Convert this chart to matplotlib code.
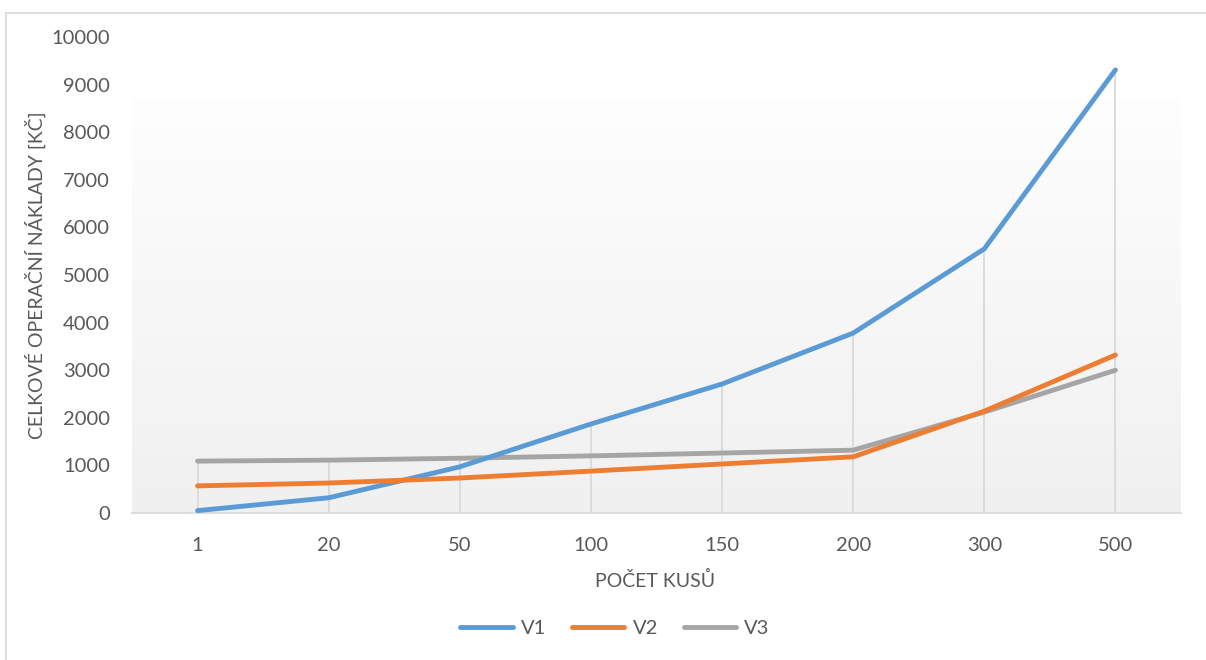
import numpy as np
import matplotlib.pyplot as plt
from matplotlib.lines import Line2D

plt.rcParams['font.family'] = ['Lato', 'DejaVu Sans']

kusy = ['1', '20', '50', '100', '150', '200', '300', '500']
v1 = [50, 320, 970, 1870, 2710, 3780, 5550, 9310]
v2 = [570, 630, 735, 880, 1030, 1180, 2140, 3320]
v3 = [1090, 1110, 1150, 1200, 1260, 1320, 2120, 3000]

c1 = '#5b9bd5'
c2 = '#ed7d31'
c3 = '#a5a5a5'
txt = '#595959'

fig = plt.figure(figsize=(12.06, 6.6), dpi=100)
ax = fig.add_axes([132 / 1206, 1 - 513 / 660, (1181 - 132) / 1206, (513 - 37) / 660])

x = np.arange(len(kusy))

# gradient background (white on top -> light grey bottom)
grad = np.linspace(0, 1, 256).reshape(-1, 1)
ax.imshow(grad, extent=[-0.5, len(kusy) - 0.5, 0, 8700], aspect='auto',
          cmap=plt.matplotlib.colors.LinearSegmentedColormap.from_list('g', ['#f0f0f0', '#fefefe']),
          origin='lower', zorder=0)

# drop lines
top = np.max([v1, v2, v3], axis=0)
ax.vlines(x, 0, top, color='#d9d9d9', lw=1.3, zorder=1)

ax.plot(x, v1, color=c1, lw=3.5, solid_capstyle='round', solid_joinstyle='round', zorder=3, label='V1')
ax.plot(x, v2, color=c2, lw=3.5, solid_capstyle='round', solid_joinstyle='round', zorder=3, label='V2')
ax.plot(x, v3, color=c3, lw=3.5, solid_capstyle='round', solid_joinstyle='round', zorder=2, label='V3')

ax.set_xlim(-0.5, len(kusy) - 0.5)
ax.set_ylim(0, 10000)
ax.set_yticks(range(0, 10001, 1000))
ax.set_xticks(x)
ax.set_xticklabels(kusy)
ax.tick_params(axis='both', length=0, labelsize=14.5, labelcolor=txt)
ax.tick_params(axis='x', pad=17)
ax.tick_params(axis='y', pad=16)
for s in ['top', 'right', 'left']:
    ax.spines[s].set_visible(False)
ax.spines['bottom'].set_color('#d9d9d9')
ax.spines['bottom'].set_linewidth(1.3)
ax.set_facecolor('white')

fig.text(655 / 1206, 1 - 580 / 660, 'POČET KUSŮ', ha='center', va='center', fontsize=14, color=txt)
fig.text(35 / 1206, 1 - 275 / 660, 'CELKOVÉ OPERAČNÍ NÁKLADY [KČ]', ha='center', va='center',
         rotation=90, fontsize=14, color=txt)

handles = [Line2D([], [], color=c, lw=3.5, solid_capstyle='round') for c in (c1, c2, c3)]
fig.legend(handles, ['V1', 'V2', 'V3'], loc='center', bbox_to_anchor=(615 / 1206, 1 - 628 / 660),
           ncol=3, frameon=False, fontsize=14.5, labelcolor=txt, handlelength=2.6,
           columnspacing=1.3, handletextpad=0.4)

# chart frame (top and left edges visible)
fig.add_artist(Line2D([5.5 / 1206, 1], [1 - 12.5 / 660, 1 - 12.5 / 660], color='#d9d9d9', lw=1.2))
fig.add_artist(Line2D([5.5 / 1206, 5.5 / 1206], [0, 1 - 12.5 / 660], color='#d9d9d9', lw=1.2))

fig.savefig('out.png', dpi=100)
